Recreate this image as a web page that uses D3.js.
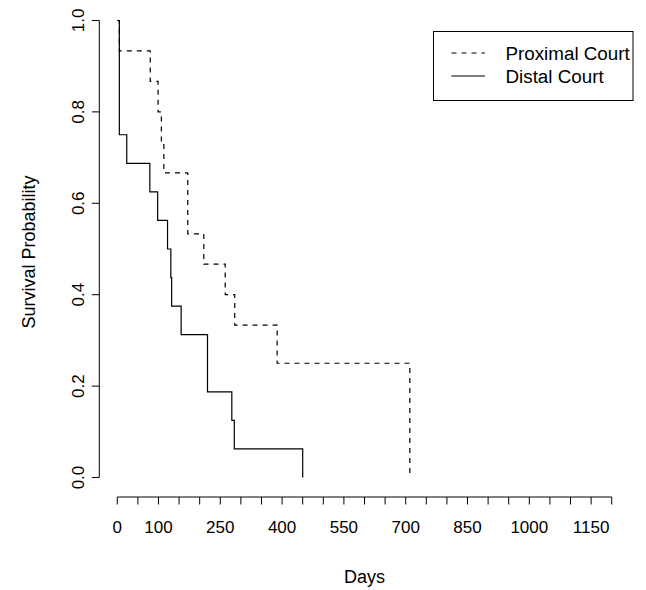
<!DOCTYPE html>
<html>
<head>
<meta charset="utf-8">
<script src="https://cdn.jsdelivr.net/npm/d3@7"></script>
<style>
  html, body { margin: 0; padding: 0; background: #fff; }
  svg { display: block; font-family: "Liberation Sans", Arial, Helvetica, sans-serif; }
</style>
</head>
<body>
<svg id="chart" width="646" height="590"></svg>
<script>
// ---- data ----
const proximalTimes = [0, 5, 80, 99, 107, 113, 171, 210, 262, 285, 388, 710];
const proximalSurv  = [1, 0.9333, 0.8667, 0.8, 0.7333, 0.6667, 0.5333, 0.4667, 0.4, 0.3333, 0.25, 0];
const distalTimes   = [0, 5, 23, 79, 98, 122, 130, 132, 155, 219, 278, 284, 450];
const distalSurv    = [1, 0.75, 0.6875, 0.625, 0.5625, 0.5, 0.4375, 0.375, 0.3125, 0.1875, 0.125, 0.0625, 0];
const xTicks = d3.range(0, 1201, 50);
const xTickLabels = [0, 100, 250, 400, 550, 700, 850, 1000, 1150];
const yTicks = [0, 0.2, 0.4, 0.6, 0.8, 1.0];
const seriesNames = ["Proximal Court", "Distal Court"];

const svg = d3.select("#chart");
const FS_TICK = 17;
const FS_LAB = 18;
const FS_LEG = 18.8;

// scales (R-style usr with 4% padding, xlim 0..1200)
const x = d3.scaleLinear().domain([-48, 1248]).range([97.5, 631.5]);
const y = d3.scaleLinear().domain([-0.04, 1.04]).range([495.8, 2.2]);

// step curves
function stepPoints(times, surv) {
  const pts = [[times[0], surv[0]]];
  for (let i = 1; i < times.length; i++) {
    pts.push([times[i], surv[i - 1]]);
    pts.push([times[i], surv[i]]);
  }
  return pts;
}
const line = d3.line().x(d => x(d[0])).y(d => y(d[1]));

svg.append("path")
  .attr("d", line(stepPoints(proximalTimes, proximalSurv)))
  .attr("fill", "none").attr("stroke", "#000").attr("stroke-width", 1.2)
  .attr("stroke-dasharray", "5,5");

svg.append("path")
  .attr("d", line(stepPoints(distalTimes, distalSurv)))
  .attr("fill", "none").attr("stroke", "#000").attr("stroke-width", 1.2);

// x axis (at bottom of plot region)
const xAxisY = 497;
const gx = svg.append("g").attr("transform", `translate(0,${xAxisY})`);
gx.append("line")
  .attr("x1", x(xTicks[0])).attr("x2", x(xTicks[xTicks.length - 1]))
  .attr("y1", 0).attr("y2", 0).attr("stroke", "#000").attr("stroke-width", 1);
gx.selectAll("line.tick").data(xTicks).enter().append("line")
  .attr("class", "tick")
  .attr("x1", d => x(d)).attr("x2", d => x(d))
  .attr("y1", 0).attr("y2", 7.5).attr("stroke", "#000").attr("stroke-width", 1);
gx.selectAll("text").data(xTickLabels).enter().append("text")
  .attr("x", d => x(d)).attr("y", 35.8)
  .attr("text-anchor", "middle").attr("font-size", FS_TICK)
  .text(d => d);

// y axis
const yAxisX = 99.3;
const gy = svg.append("g").attr("transform", `translate(${yAxisX},0)`);
gy.append("line")
  .attr("x1", 0).attr("x2", 0)
  .attr("y1", y(0)).attr("y2", y(1)).attr("stroke", "#000").attr("stroke-width", 1);
gy.selectAll("line.tick").data(yTicks).enter().append("line")
  .attr("class", "tick")
  .attr("x1", 0).attr("x2", -7.5)
  .attr("y1", d => y(d)).attr("y2", d => y(d)).attr("stroke", "#000").attr("stroke-width", 1);
gy.selectAll("text").data(yTicks).enter().append("text")
  .attr("transform", d => `translate(-15.8,${y(d)}) rotate(-90)`)
  .attr("text-anchor", "middle").attr("font-size", FS_TICK)
  .text(d => d.toFixed(1));

// axis titles
svg.append("text")
  .attr("x", x(600)).attr("y", 583)
  .attr("text-anchor", "middle").attr("font-size", FS_LAB)
  .text("Days");
svg.append("text")
  .attr("transform", `translate(34.5,${y(0.5) + 3}) rotate(-90)`)
  .attr("text-anchor", "middle").attr("font-size", FS_LAB)
  .text("Survival Probability");

// legend
const lg = svg.append("g");
lg.append("rect")
  .attr("x", 433.5).attr("y", 31.5).attr("width", 199.5).attr("height", 69)
  .attr("fill", "#fff").attr("stroke", "#000").attr("stroke-width", 1);
const legendRows = [
  { name: seriesNames[0], dash: "5,5", yy: 53 },
  { name: seriesNames[1], dash: null, yy: 76 }
];
legendRows.forEach(r => {
  lg.append("line")
    .attr("x1", 451.5).attr("x2", 485).attr("y1", r.yy).attr("y2", r.yy)
    .attr("stroke", "#000").attr("stroke-width", 1.2)
    .attr("stroke-dasharray", r.dash);
  lg.append("text")
    .attr("x", 505.5).attr("y", r.yy + 6.6)
    .attr("font-size", FS_LEG)
    .text(r.name);
});
</script>
</body>
</html>
